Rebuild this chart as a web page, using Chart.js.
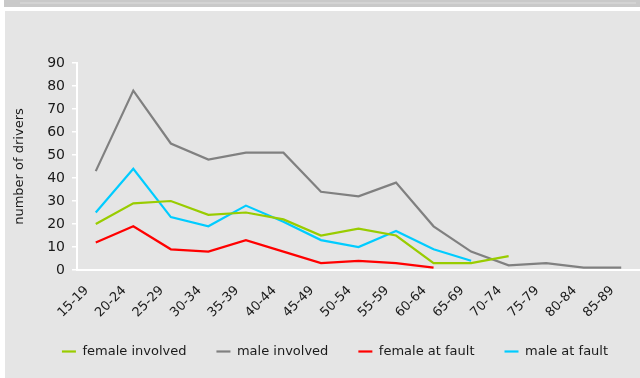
<!DOCTYPE html>
<html>
<head>
<meta charset="utf-8">
<script src="https://cdn.jsdelivr.net/npm/chart.js@4.4.1/dist/chart.umd.min.js"></script>
<style>
  html, body { margin: 0; padding: 0; background: #fff; width: 640px; height: 378px; overflow: hidden; }
  #topbar { position: absolute; left: 4px; top: 0; width: 636px; height: 7px; background: #c9c9c9; }
  #topbar div { position: absolute; left: 16px; right: 4px; top: 2px; height: 2px; background: #d3d3d3; }
  #panel { position: absolute; left: 5px; top: 11px; width: 635px; height: 367px; background: #e5e5e5; }
  #wrap { position: absolute; left: 0; top: 0; width: 640px; height: 378px; }
</style>
</head>
<body>
<div id="topbar"><div></div></div>
<div id="panel"></div>
<div id="wrap"><canvas id="chart"></canvas></div>
<script>
// age bands on the x axis
const ageGroups = ["15-19", "20-24", "25-29", "30-34", "35-39", "40-44", "45-49", "50-54",
  "55-59", "60-64", "65-69", "70-74", "75-79", "80-84", "85-89"];

// number of drivers per age band (null = no value)
const femaleInvolved = [20, 29, 30, 24, 25, 22, 15, 18, 15, 3, 3, 6, null, null, null];
const maleInvolved   = [43, 78, 55, 48, 51, 51, 34, 32, 38, 19, 8, 2, 3, 1, 1];
const femaleAtFault  = [12, 19, 9, 8, 13, 8, 3, 4, 3, 1, null, null, null, null, null];
const maleAtFault    = [25, 44, 23, 19, 28, 21, 13, 10, 17, 9, 4, null, null, null, null];

const yTicks = [0, 10, 20, 30, 40, 50, 60, 70, 80, 90];

const textColor = "#1a1a1a";
const fontFamily = "'DejaVu Sans', Verdana, sans-serif";

function series(label, data, color) {
  return {
    label: label,
    data: data,
    borderColor: color,
    backgroundColor: color,
    borderWidth: 2.2,
    pointRadius: 0,
    pointHoverRadius: 0,
    tension: 0,
    fill: false
  };
}

// move the legend row a bit right and up, like the original
const legendShift = {
  id: "legendShift",
  afterLayout(chart) {
    const lg = chart.legend;
    lg.left += 11;
    lg.right += 11;
    lg.top -= 7;
    lg.bottom -= 7;
  }
};

new Chart(document.getElementById("chart").getContext("2d"), {
  type: "line",
  data: {
    labels: ageGroups,
    datasets: [
      series("female involved", femaleInvolved, "#99cc00"),
      series("male involved", maleInvolved, "#808080"),
      series("female at fault", femaleAtFault, "#ff0000"),
      series("male at fault", maleAtFault, "#00ccff")
    ]
  },
  plugins: [legendShift],
  options: {
    responsive: true,
    maintainAspectRatio: false,
    animation: false,
    layout: { padding: { top: 63, left: 8, right: 0, bottom: 3 } },
    plugins: {
      tooltip: { enabled: false },
      legend: {
        position: "bottom",
        labels: {
          usePointStyle: true,
          pointStyle: "line",
          pointStyleWidth: 14,
          padding: 30,
          color: textColor,
          font: { family: fontFamily, size: 13 }
        }
      }
    },
    scales: {
      x: {
        offset: true,
        grid: { display: false },
        border: { display: true, color: "#ffffff", width: 2 },
        ticks: {
          autoSkip: false,
          minRotation: 45,
          maxRotation: 45,
          labelOffset: -9,
          padding: 5,
          color: textColor,
          font: { family: fontFamily, size: 13 }
        },
        afterFit: s => { s.height = 52; }
      },
      y: {
        min: 0,
        max: 90,
        afterBuildTicks: s => { s.ticks = yTicks.map(v => ({ value: v })); },
        grid: { drawOnChartArea: false, drawTicks: true, tickLength: 5, color: "#ffffff", lineWidth: 1.5 },
        border: { display: true, color: "#ffffff", width: 2 },
        ticks: {
          padding: 7,
          color: textColor,
          font: { family: fontFamily, size: 14 }
        },
        title: {
          display: true,
          text: "number of drivers",
          color: textColor,
          padding: { top: 4, bottom: 0 },
          font: { family: fontFamily, size: 13 }
        },
        afterFit: s => { s.width = 69; }
      }
    }
  }
});
</script>
</body>
</html>
